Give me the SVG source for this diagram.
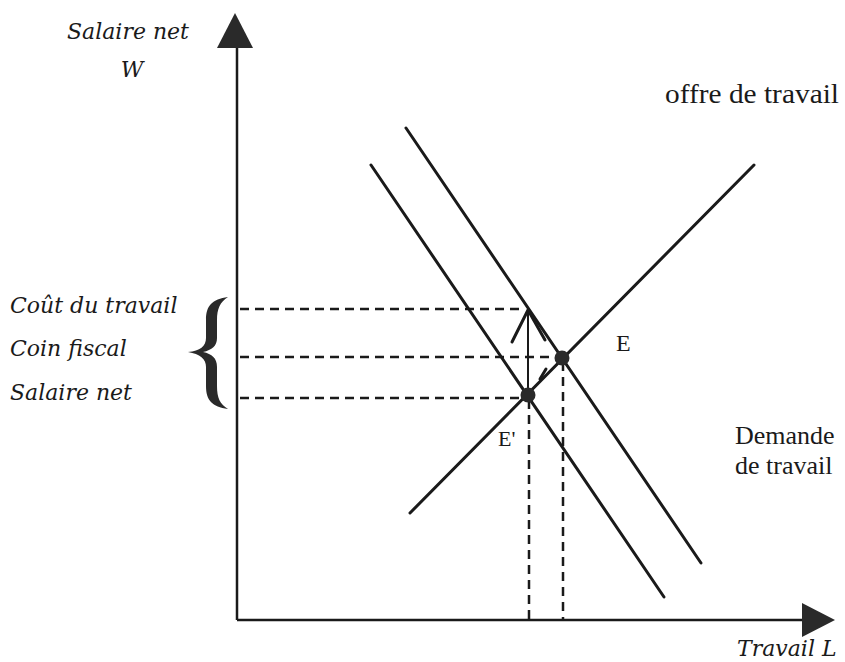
<svg xmlns="http://www.w3.org/2000/svg" width="845" height="662" viewBox="0 0 845 662">
<style>
.ax{stroke:#1a1a1a;stroke-width:2.5;fill:none}
.ln{stroke:#1a1a1a;stroke-width:3;fill:none;stroke-linecap:round}
.dash{stroke:#1a1a1a;stroke-width:2.5;fill:none;stroke-dasharray:9,6}
.it{font-family:"DejaVu Serif",serif;font-style:italic;font-size:22px;fill:#1a1a1a}
.rm{font-family:"Liberation Serif","Times New Roman",serif;font-size:26px;fill:#1a1a1a}
.head{fill:#2a2a2a}
</style>
<rect width="845" height="662" fill="#ffffff"/>
<g id="axes">
<line class="ax" x1="237" y1="46" x2="237" y2="620"/>
<polygon class="head" points="235,13 217,48 253,48"/>
<line class="ax" x1="237" y1="620" x2="804" y2="620"/>
<polygon class="head" points="835,620 802,603 802,637"/>
</g>
<g id="connectors">
<line id="supply" class="ln" x1="410" y1="513" x2="754" y2="165"/>
<line id="demand1" class="ln" x1="371" y1="165" x2="664" y2="597"/>
<line id="demand2" class="ln" x1="406" y1="128" x2="701" y2="563"/>
<line class="dash" x1="240" y1="309" x2="524" y2="309"/>
<line class="dash" x1="240" y1="357" x2="558" y2="357"/>
<line class="dash" x1="240" y1="398" x2="524" y2="398"/>
<line class="dash" x1="529" y1="400" x2="529" y2="620"/>
<line class="dash" x1="563" y1="362" x2="563" y2="620"/>
<line class="ax" x1="528" y1="395" x2="528" y2="310" style="stroke-width:2"/>
<polyline class="ln" points="512,342 528,310 545,340"/>
<line class="ln" x1="546" y1="369" x2="540" y2="379"/>
</g>
<g id="points">
<circle cx="528" cy="395" r="7.5" fill="#2a2a2a"/>
<circle cx="562" cy="358" r="7.5" fill="#2a2a2a"/>
</g>
<g id="brace">
<path d="M228,297 C212,299 206,306 206,320 L206,338 C206,346 200,351 188,352 C200,354 206,359 206,367 L206,386 C206,400 212,407 228,409 C220,404 217,398 217,386 L217,367 C217,358 212,354 203,352 C212,350 217,346 217,338 L217,320 C217,309 220,302 228,297 Z" fill="#2a2a2a"/>
</g>
<g id="labels">
<text class="it" x="67" y="39">Salaire net</text>
<text class="it" x="132" y="77" text-anchor="middle">W</text>
<text class="it" x="10" y="313">Coût du travail</text>
<text class="it" x="10" y="356">Coin fiscal</text>
<text class="it" x="10" y="400">Salaire net</text>
<text class="rm" x="665" y="103" style="font-size:28px" textLength="174" lengthAdjust="spacingAndGlyphs">offre de travail</text>
<text class="rm" x="735" y="444">Demande</text>
<text class="rm" x="735" y="474">de travail</text>
<text class="rm" x="616" y="351" style="font-size:24px">E</text>
<text class="rm" x="498" y="446" style="font-size:22px">E'</text>
<text class="it" x="737" y="656">Travail  L</text>
</g>
</svg>
